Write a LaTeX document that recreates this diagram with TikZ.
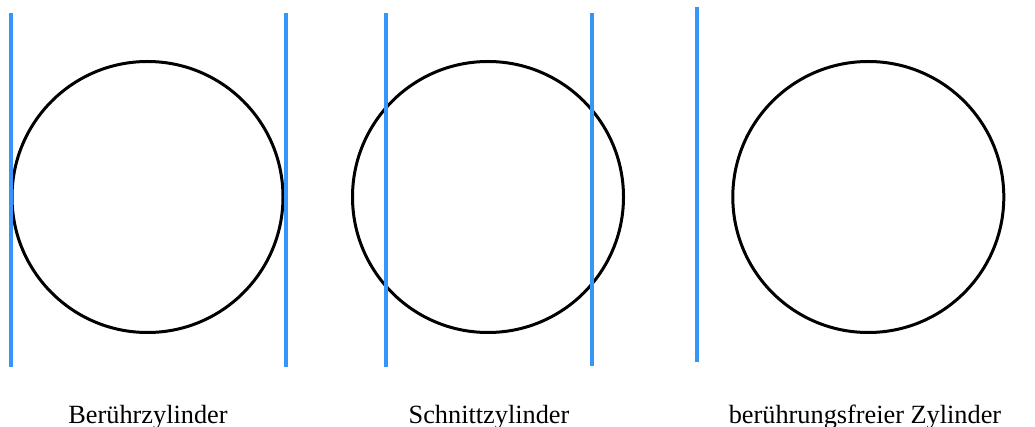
\documentclass[tikz,border=0pt]{standalone}
\usepackage{fontspec}
\setmainfont{Liberation Serif}
\definecolor{cylblue}{RGB}{52,150,250}
\tikzset{
  ring/.style={circle, draw=black, line width=3pt, minimum size=271pt, inner sep=0pt},
  cylline/.style={draw=cylblue, line width=4.4pt},
  caption/.style={anchor=base, inner sep=0pt, font=\fontsize{26.3pt}{30pt}\selectfont}
}
\begin{document}
\begin{tikzpicture}[x=1pt, y=-1pt]
\useasboundingbox[fill=white] (0,0) rectangle (1035,427);
% circles
\node[ring] (c1) at (147.5,197) {};
\node[ring] (c2) at (488,197) {};
\node[ring] (c3) at (868.3,197) {};
% cylinder lines
\coordinate (a1) at (11,13);  \coordinate (b1) at (11,367);
\coordinate (a2) at (286,13); \coordinate (b2) at (286,367);
\coordinate (a3) at (385.7,13); \coordinate (b3) at (385.7,367);
\coordinate (a4) at (592,13); \coordinate (b4) at (592,366);
\coordinate (a5) at (697,7);  \coordinate (b5) at (697,362);
\draw[cylline] (a1) -- (b1);
\draw[cylline] (a2) -- (b2);
\draw[cylline] (a3) -- (b3);
\draw[cylline] (a4) -- (b4);
\draw[cylline] (a5) -- (b5);
% captions
\node[caption] (t1) at (148,423.3) {Berührzylinder};
\node[caption] (t2) at (489,423.3) {Schnittzylinder};
\node[caption] (t3) at (865,423.3) {berührungsfreier Zylinder};
\end{tikzpicture}
\end{document}
